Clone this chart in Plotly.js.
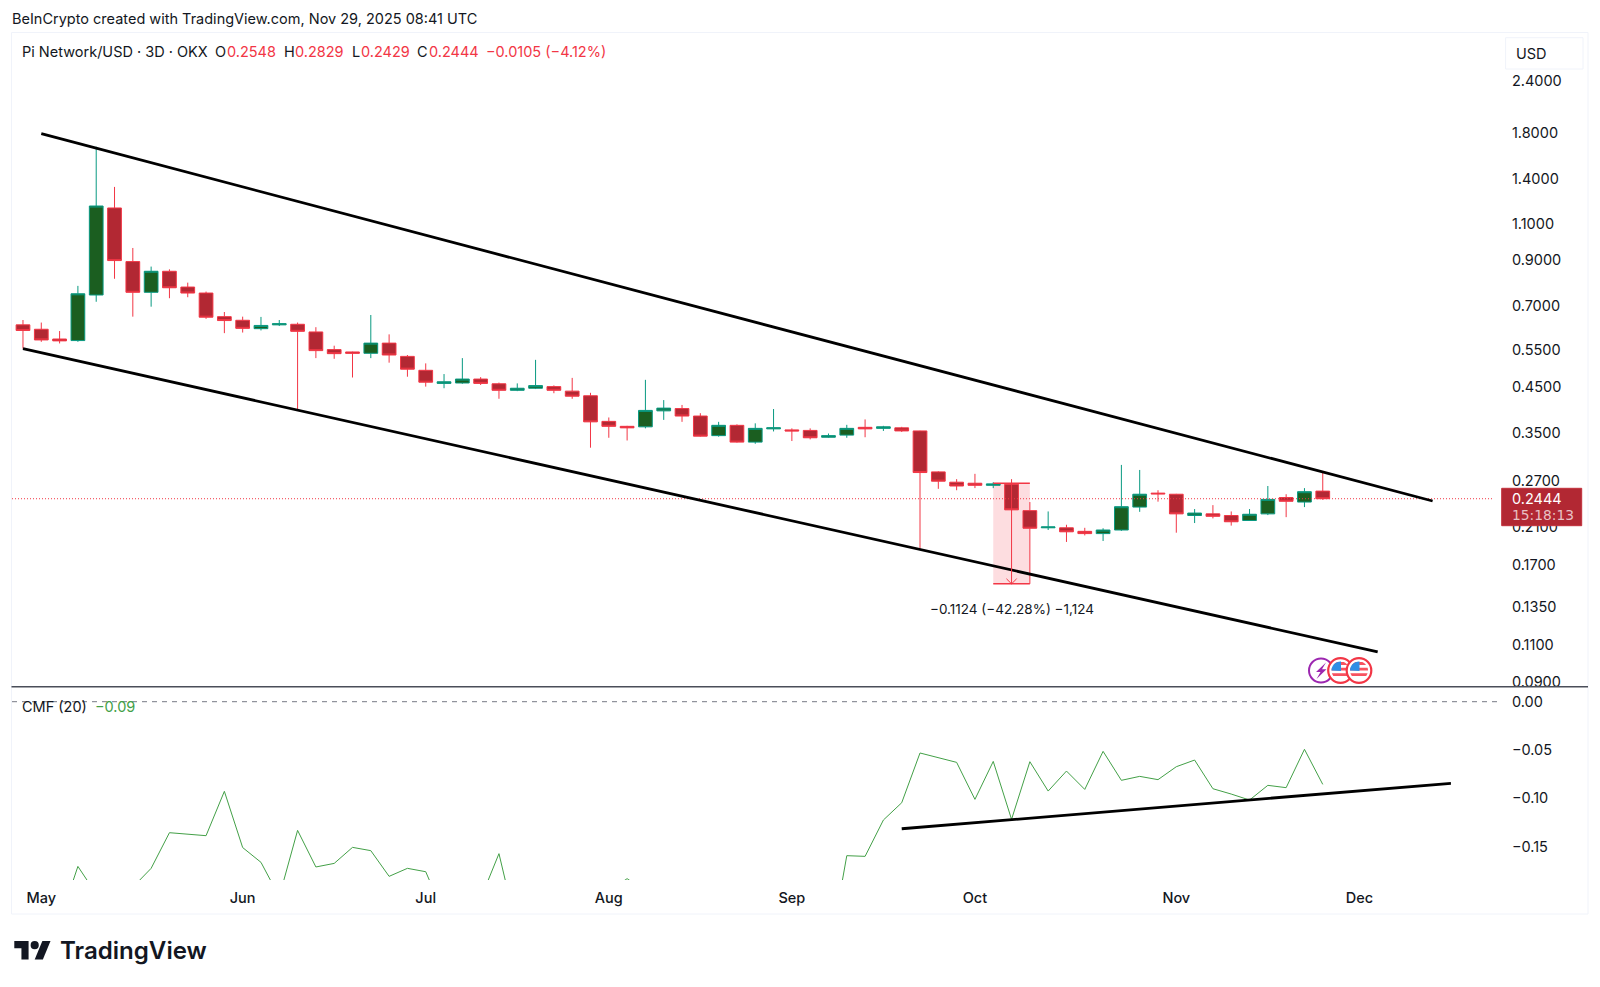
<!DOCTYPE html>
<html>
<head>
<meta charset="utf-8">
<script src="https://cdn.plot.ly/plotly-3.0.1.min.js"></script>
<style>html,body{margin:0;padding:0;background:#fff}#chart{width:1600px;height:987px}</style>
</head>
<body>
<div id="chart"></div>
<script>
var dates = ["2025-04-28","2025-05-01","2025-05-04","2025-05-07","2025-05-10","2025-05-13","2025-05-16","2025-05-19","2025-05-22","2025-05-25","2025-05-28","2025-05-31","2025-06-03","2025-06-06","2025-06-09","2025-06-12","2025-06-15","2025-06-18","2025-06-21","2025-06-24","2025-06-27","2025-06-30","2025-07-03","2025-07-06","2025-07-09","2025-07-12","2025-07-15","2025-07-18","2025-07-21","2025-07-24","2025-07-27","2025-07-30","2025-08-02","2025-08-05","2025-08-08","2025-08-11","2025-08-14","2025-08-17","2025-08-20","2025-08-23","2025-08-26","2025-08-29","2025-09-01","2025-09-04","2025-09-07","2025-09-10","2025-09-13","2025-09-16","2025-09-19","2025-09-22","2025-09-25","2025-09-28","2025-10-01","2025-10-04","2025-10-07","2025-10-10","2025-10-13","2025-10-16","2025-10-19","2025-10-22","2025-10-25","2025-10-28","2025-10-31","2025-11-03","2025-11-06","2025-11-09","2025-11-12","2025-11-15","2025-11-18","2025-11-21","2025-11-24","2025-11-27"];
var opens = [.632,.617,.585,.580,.744,1.197,.893,.755,.847,.777,.752,.661,.648,.619,.632,.634,.608,.552,.545,.541,.572,.532,.493,.459,.460,.470,.458,.442,.447,.451,.440,.429,.373,.363,.362,.395,.400,.384,.345,.365,.333,.358,.356,.355,.342,.346,.361,.359,.360,.354,.283,.2675,.266,.263,.2645,.229,.2085,.2085,.2045,.202,.206,.2335,.252,.2505,.223,.225,.223,.217,.225,.246,.240,.2548];
var highs = [.649,.640,.611,.782,1.673,1.343,.962,.869,.856,.796,.758,.678,.661,.660,.649,.640,.624,.564,.546,.667,.600,.536,.512,.483,.527,.475,.461,.459,.522,.454,.473,.436,.381,.364,.468,.419,.408,.390,.372,.367,.369,.399,.359,.359,.349,.366,.377,.364,.362,.3545,.284,.272,.280,.2675,.272,.240,.228,.212,.2085,.208,.294,.286,.256,.251,.231,.236,.228,.231,.262,.2505,.259,.2829];
var lows = [.555,.576,.571,.576,.717,.813,.661,.698,.731,.735,.653,.604,.606,.613,.628,.398,.527,.525,.474,.527,.514,.476,.451,.447,.458,.455,.422,.440,.445,.435,.422,.323,.341,.336,.359,.376,.372,.343,.343,.332,.330,.353,.335,.338,.341,.341,.342,.354,.352,.186,.258,.256,.259,.259,.2285,.1535,.206,.193,.200,.194,.205,.2275,.2405,.203,.214,.2195,.211,.217,.2235,.221,.2335,.2429];
var closes = [.613,.582,.579,.749,1.210,.898,.755,.847,.774,.752,.659,.647,.620,.630,.636,.610,.549,.540,.541,.572,.536,.496,.462,.463,.470,.459,.442,.447,.4535,.442,.428,.372,.363,.360,.396,.401,.384,.344,.365,.333,.359,.360,.354,.341,.345,.359,.358,.362,.354,.282,.269,.262,.263,.265,.230,.208,.2095,.204,.202,.206,.234,.2505,.251,.225,.226,.222,.2155,.2245,.2435,.241,.254,.2444];
var cmf = [-.24,-.23,-.227,-.1705,-.199,-.21,-.192,-.1725,-.1356,-.137,-.1387,-.0928,-.151,-.1663,-.2019,-.1332,-.1711,-.1674,-.1508,-.1542,-.1808,-.1725,-.176,-.2201,-.23,-.204,-.1573,-.237,-.24,-.25,-.245,-.23,-.196,-.1832,-.196,-.22,-.24,-.26,-.27,-.28,-.27,-.26,-.25,-.26,-.2657,-.1594,-.1601,-.1225,-.1046,-.0531,-.0576,-.0628,-.1011,-.0618,-.1218,-.0621,-.0925,-.0718,-.0908,-.0514,-.0814,-.0773,-.0807,-.0673,-.0604,-.0901,-.0956,-.1018,-.0866,-.089,-.0493,-.0856];

var monthDates = ["2025-05-01","2025-06-03","2025-07-03","2025-08-02","2025-09-01","2025-10-01","2025-11-03","2025-12-03"];
var monthLabels = ["May","Jun","Jul","Aug","Sep","Oct","Nov","Dec"];
var priceTicks = [2.4,1.8,1.4,1.1,0.9,0.7,0.55,0.45,0.35,0.27,0.21,0.17,0.135,0.11,0.09];
var priceLabels = ["2.4000","1.8000","1.4000","1.1000","0.9000","0.7000","0.5500","0.4500","0.3500","0.2700","0.2100","0.1700","0.1350","0.1100","0.0900"];
var cmfTicks = [0,-0.05,-0.1,-0.15];
var cmfLabels = ["0.00","\u22120.05","\u22120.10","\u22120.15"];

var upperTrendX = ["2025-05-01","2025-12-15"], upperTrendY = [1.796,0.2414];
var lowerTrendX = ["2025-04-28","2025-12-06"], lowerTrendY = [0.555,0.1058];
var cmfTrendX = ["2025-09-19","2025-12-18"], cmfTrendY = [-0.1315,-0.0845];
var measureX = ["2025-10-04","2025-10-10"], measureY = [0.2659,0.1535];
var lastPrice = 0.2444;

var xRange = ["2025-04-26 04:48","2025-12-26 05:00"];
var FONT = "Inter, 'Liberation Sans', sans-serif";
var W = 1600, H = 987;
function px(x){return x/W;}
function py(y){return 1-y/H;}
var RED = "#f23645", TEAL = "#089981", DARK = "#131722";

var traces = [
  {type:"candlestick",x:dates,open:opens,high:highs,low:lows,close:closes,xaxis:"x",yaxis:"y",whiskerwidth:0,
   increasing:{line:{color:TEAL,width:1},fillcolor:"#1b5e20"},
   decreasing:{line:{color:RED,width:1},fillcolor:"#b22833"},hoverinfo:"skip"},
  {type:"scatter",mode:"lines",x:[xRange[0],"2025-12-25"],y:[lastPrice,lastPrice],yaxis:"y",line:{color:RED,width:1,dash:"1px,2px"},hoverinfo:"skip"},
  {type:"scatter",mode:"lines",x:upperTrendX,y:upperTrendY,yaxis:"y",line:{color:"#000",width:2.8},hoverinfo:"skip"},
  {type:"scatter",mode:"lines",x:lowerTrendX,y:lowerTrendY,yaxis:"y",line:{color:"#000",width:2.8},hoverinfo:"skip"},
  {type:"scatter",mode:"lines",x:measureX,y:[measureY[0],measureY[0]],yaxis:"y",line:{color:RED,width:1.5},hoverinfo:"skip"},
  {type:"scatter",mode:"lines",x:measureX,y:[measureY[1],measureY[1]],yaxis:"y",line:{color:RED,width:1.5},hoverinfo:"skip"},
  {type:"scatter",mode:"lines",x:["2025-10-07","2025-10-07"],y:measureY,yaxis:"y",line:{color:RED,width:1},hoverinfo:"skip"},
  {type:"scatter",mode:"lines",x:["2025-10-06 04:00","2025-10-07","2025-10-07 20:00"],y:[0.1578,0.1535,0.1578],yaxis:"y",line:{color:RED,width:1},hoverinfo:"skip"},
  {type:"scatter",mode:"lines",x:[xRange[0],"2025-12-26"],y:[0,0],yaxis:"y2",line:{color:"#787b86",width:1,dash:"5px,5px"},hoverinfo:"skip"},
  {type:"scatter",mode:"lines",x:dates,y:cmf,yaxis:"y2",line:{color:"#43a047",width:1},hoverinfo:"skip"},
  {type:"scatter",mode:"lines",x:cmfTrendX,y:cmfTrendY,yaxis:"y2",line:{color:"#000",width:2.8},hoverinfo:"skip"}
];

function rectPx(x0,y0,x1,y1,opt){
  return Object.assign({type:"rect",xref:"paper",yref:"paper",x0:px(x0),x1:px(x1),y0:py(y0),y1:py(y1),line:{width:0}},opt);
}
function circlePx(cx,cy,r,opt){
  return Object.assign({type:"circle",xref:"paper",yref:"paper",x0:px(cx-r),x1:px(cx+r),y0:py(cy+r),y1:py(cy-r)},opt);
}
function polyPath(pts){
  return "M"+pts.map(function(p){return px(p[0])+","+py(p[1]);}).join("L")+"Z";
}
function chord(cx,cy,r,y1,y2){
  var pts=[],i,y,d,n=6;
  for(i=0;i<=n;i++){y=y1+(y2-y1)*i/n;d=Math.sqrt(Math.max(0,r*r-y*y));pts.push([cx+d,cy+y]);}
  for(i=n;i>=0;i--){y=y1+(y2-y1)*i/n;d=Math.sqrt(Math.max(0,r*r-y*y));pts.push([cx-d,cy+y]);}
  return polyPath(pts);
}
function canton(cx,cy,r){
  var pts=[[cx+0.5,cy+0.5],[cx+0.5,cy-Math.sqrt(r*r-0.25)]],i,a;
  for(i=0;i<=8;i++){a=Math.PI/2*i/8;pts.push([cx-r*Math.sin(a),cy-r*Math.cos(a)]);}
  return polyPath(pts);
}
function flag(cx,cy){
  var s=[];
  s.push(circlePx(cx,cy,12.3,{layer:"above",fillcolor:"#fff",line:{color:RED,width:2.2}}));
  var r=9;
  s.push(circlePx(cx,cy,r,{layer:"above",fillcolor:"#fff",line:{width:0}}));
  s.push({type:"path",layer:"above",xref:"paper",yref:"paper",path:chord(cx,cy,r,-2.7,0.0),fillcolor:"#f7525f",line:{width:0}});
  s.push({type:"path",layer:"above",xref:"paper",yref:"paper",path:chord(cx,cy,r,2.8,5.4),fillcolor:"#f7525f",line:{width:0}});
  s.push({type:"path",layer:"above",xref:"paper",yref:"paper",path:chord(cx,cy,r,-8.4,-5.6),fillcolor:"#f7525f",line:{width:0}});
  s.push({type:"path",layer:"above",xref:"paper",yref:"paper",path:canton(cx,cy,r),fillcolor:"#2f8ee5",line:{width:0}});
  return s;
}
var lx=14.3, ly=937, ls=1.02;
function lp(pts){return polyPath(pts.map(function(p){return [lx+p[0]*ls,ly+p[1]*ls];}));}

var shapes = [
  rectPx(11.5,32.5,1588,914,{layer:"below",fillcolor:"rgba(0,0,0,0)",line:{color:"#f0f3fa",width:1}}),
  rectPx(1505.6,37.7,1583,69,{layer:"below",fillcolor:"#fff",line:{color:"#f0f3fa",width:1}}),
  {type:"rect",xref:"x",yref:"y",layer:"below",x0:measureX[0],x1:measureX[1],y0:measureY[1],y1:measureY[0],fillcolor:"rgba(242,54,69,0.17)",line:{width:0}},
  {type:"line",xref:"paper",yref:"paper",layer:"above",x0:px(11.5),x1:px(1588),y0:py(686.7),y1:py(686.7),line:{color:"#4a4e59",width:1.5}},
  rectPx(1501.7,488.3,1581.7,525.7,{layer:"above",fillcolor:"#b22833",line:{color:"#c2303c",width:1}}),
  circlePx(1321,670.5,12,{layer:"above",fillcolor:"#fff",line:{color:"#9c27b0",width:2}}),
  {type:"path",layer:"above",xref:"paper",yref:"paper",path:polyPath([[1326,662.5],[1316,672],[1320.5,672],[1316.5,679],[1326.5,669.2],[1322,669.2]]),fillcolor:"#9c27b0",line:{width:0}}
].concat(flag(1340.5,670.5),flag(1359,670.5),[
  {type:"path",layer:"above",xref:"paper",yref:"paper",path:lp([[0,4],[14,4],[14,22],[7,22],[7,11],[0,11]]),fillcolor:DARK,line:{width:0}},
  {type:"path",layer:"above",xref:"paper",yref:"paper",path:lp([[27.5,4],[35.5,4],[28,22],[20,22]]),fillcolor:DARK,line:{width:0}},
  circlePx(lx+20*ls,ly+8*ls,4*ls,{layer:"above",fillcolor:DARK,line:{width:0}})
]);

function label(text,x,y,size,color,opt){
  return Object.assign({text:text,xref:"paper",yref:"paper",x:px(x),y:py(y),xanchor:"left",yanchor:"middle",showarrow:false,
    font:{family:FONT,size:size,color:color},borderpad:0,borderwidth:0,align:"left"},opt||{});
}
var TXT = 14.5;
var annotations = [
  label("BeInCrypto created with TradingView.com, Nov 29, 2025 08:41 UTC",12,19.3,TXT,DARK),
  label("Pi Network/USD \u00b7 3D \u00b7 OKX",22,51.7,TXT,DARK),
  label("O",215.3,51.7,TXT,DARK),label("0.2548",227,51.7,TXT,RED),
  label("H",284,51.7,TXT,DARK),label("0.2829",295.4,51.7,TXT,RED),
  label("L",352,51.7,TXT,DARK),label("0.2429",360.7,51.7,TXT,RED),
  label("C",417.3,51.7,TXT,DARK),label("0.2444",428.6,51.7,TXT,RED),
  label("\u22120.0105 (\u22124.12%)",486,51.7,TXT,RED),
  label("USD",1515.8,53.3,TXT,DARK),
  label("\u22120.1124 (\u221242.28%) \u22121,124",1011.5,609.3,13.5,DARK,{xanchor:"center"}),
  label("0.2444",1512,498.3,TXT,"#ffffff"),
  label("15:18:13",1512,515,13.8,"rgba(255,255,255,0.72)",{font:{family:"'DejaVu Sans', sans-serif",size:13.8,color:"rgba(255,255,255,0.72)"}}),
  label("CMF (20)",22,706.7,TXT,DARK),
  label("\u22120.09",95,706.7,TXT,"#43a047"),
  label("TradingView",60,950.5,24.1,DARK,{font:{family:FONT,size:24.1,color:DARK,weight:600}})
];

var layout = {
  width:W,height:H,margin:{l:0,r:0,t:0,b:0},paper_bgcolor:"#fff",plot_bgcolor:"#fff",showlegend:false,hovermode:false,
  boxgap:0.25,boxgroupgap:0,
  font:{family:FONT,size:TXT,color:DARK},
  xaxis:{type:"date",domain:[px(12),px(1501)],range:xRange,anchor:"y2",rangeslider:{visible:false},showgrid:false,zeroline:false,showline:false,
    tickmode:"array",tickvals:monthDates,ticktext:monthLabels,ticks:"outside",ticklen:5,tickcolor:"rgba(0,0,0,0)",
    tickfont:{family:FONT,size:TXT,color:DARK,weight:500}},
  yaxis:{type:"log",domain:[py(686.5),py(33)],range:[Math.log10(0.0876),Math.log10(3.114)],anchor:"x",side:"right",showgrid:false,zeroline:false,showline:false,
    tickmode:"array",tickvals:priceTicks,ticktext:priceLabels,ticks:"outside",ticklen:7,tickcolor:"rgba(0,0,0,0)",tickfont:{family:FONT,size:TXT,color:DARK}},
  yaxis2:{domain:[py(880),py(687.5)],range:[-0.18458,0.0147],anchor:"x",side:"right",showgrid:false,zeroline:false,showline:false,
    tickmode:"array",tickvals:cmfTicks,ticktext:cmfLabels,ticks:"outside",ticklen:7,tickcolor:"rgba(0,0,0,0)",tickfont:{family:FONT,size:TXT,color:DARK}},
  shapes:shapes,annotations:annotations
};
Plotly.newPlot("chart",traces,layout,{displayModeBar:false,staticPlot:true});
</script>
</body>
</html>
